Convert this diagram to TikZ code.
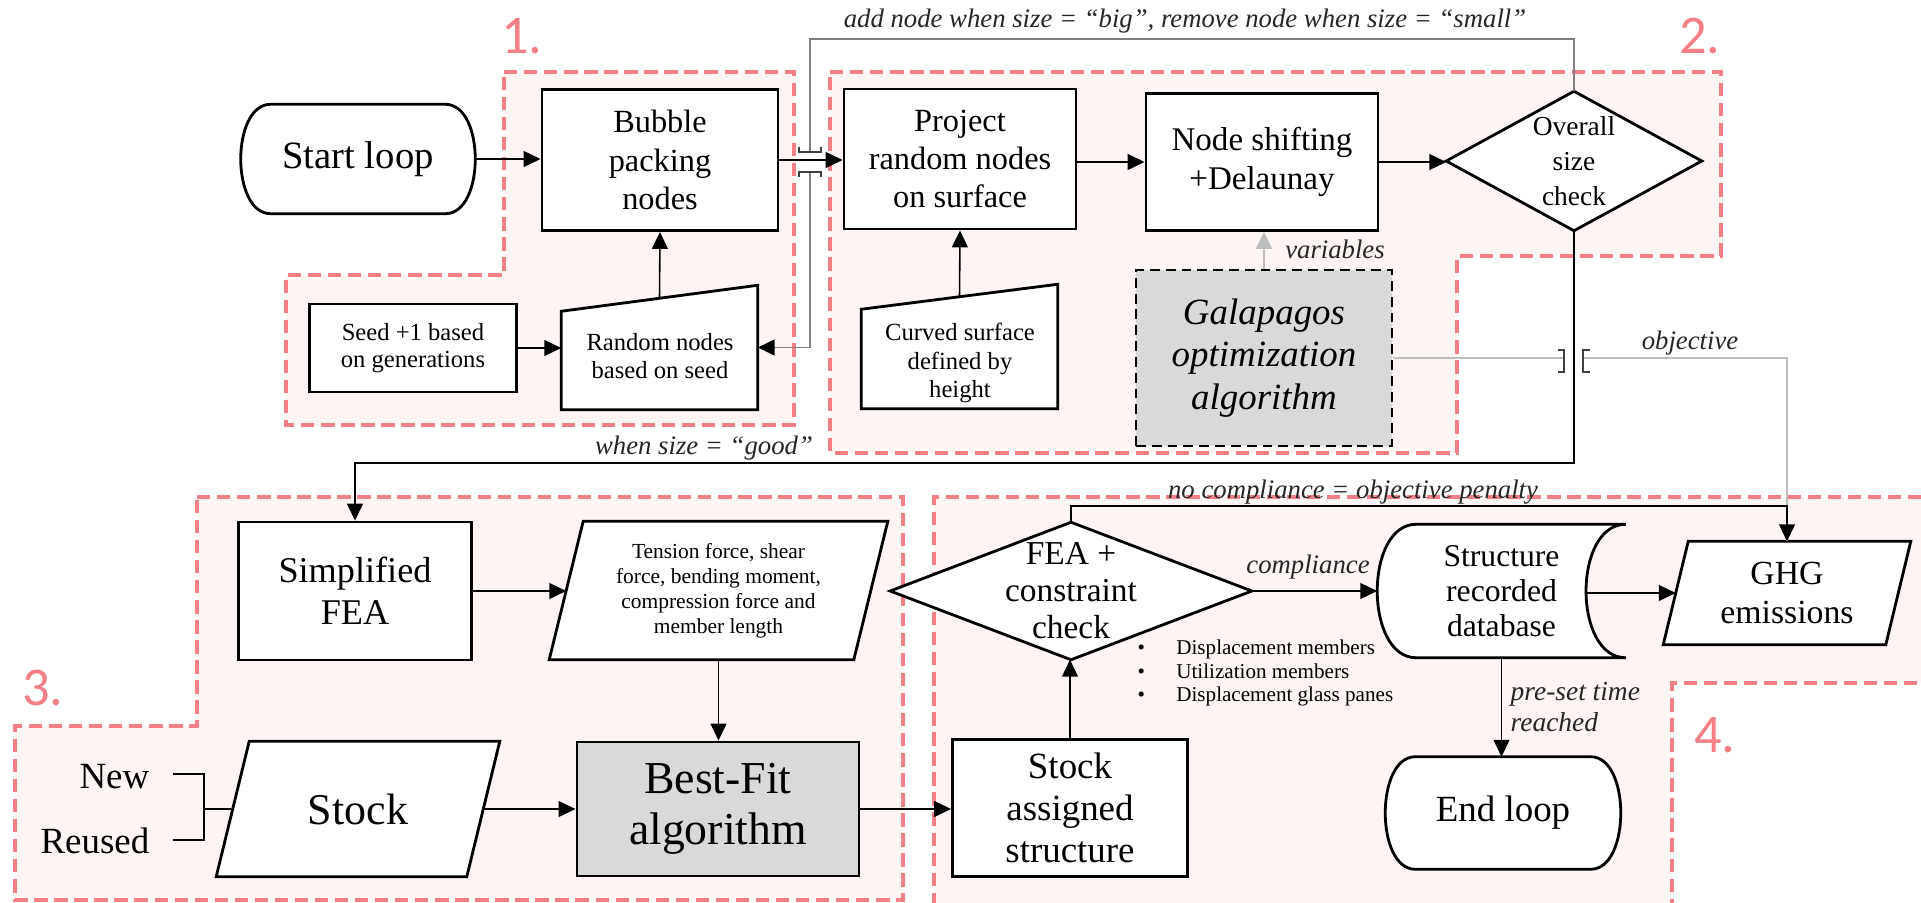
\documentclass[tikz,border=0pt]{standalone}
\usepackage{fontspec}
\setmainfont{Liberation Serif}
\newfontfamily\zonefont{Carlito}
\usetikzlibrary{arrows.meta,calc}
\pgfdeclarelayer{bg}
\pgfsetlayers{bg,main}
\definecolor{zonefill}{RGB}{253,244,244}
\definecolor{zoneline}{RGB}{244,128,135}
\definecolor{procgray}{RGB}{217,217,217}
\definecolor{loopgray}{RGB}{128,128,128}
\definecolor{objgray}{RGB}{190,190,190}
\newcommand\fsz[2]{\fontsize{#1}{#2}\selectfont}

\tikzset{
  zone/.style={draw=zoneline, fill=zonefill, line width=0.9pt, dash pattern=on 3.8pt off 1.9pt},
  zonelabel/.style={text=zoneline, font=\zonefont\fsz{15.5}{16}, inner sep=0pt},
  proc/.style={draw, line width=0.8pt, fill=white, align=center, inner sep=0pt},
  holder/.style={align=center, inner sep=0pt},
  outline/.style={draw, line width=0.8pt, fill=white},
  flow/.style={line width=0.45pt, -{Triangle[length=4.8pt,width=4.5pt]}},
  plain/.style={line width=0.45pt},
  loopline/.style={line width=0.55pt, draw=loopgray},
  objline/.style={line width=0.6pt, draw=objgray},
  jump/.style={line width=0.5pt, draw=black!75},
  note/.style={font=\itshape\fsz{7.6}{8.8}, text=black!85, inner sep=0pt},
}

\begin{document}
\begin{tikzpicture}[x=0.01cm,y=-0.01cm]
\useasboundingbox (0,0) rectangle (1921,903);

% the four process zones
\begin{pgfonlayer}{bg}
  \path[zone] (504,72) -- (794,72) -- (794,425) -- (286,425) -- (286,275) -- (504,275) -- cycle;
  \path[zone] (830,72) -- (1721,72) -- (1721,256) -- (1457,256) -- (1457,453) -- (830,453) -- cycle;
  \path[zone] (197,497) -- (903,497) -- (903,900) -- (15,900) -- (15,726) -- (197,726) -- cycle;
  \path[zone] (934,906) -- (934,497) -- (1930,497) -- (1930,683) -- (1672,683) -- (1672,906) -- cycle;
\end{pgfonlayer}

\node[zonelabel] (z1) at (522,36) {1.};
\node[zonelabel] (z2) at (1700,36) {2.};
\node[zonelabel] (z3) at (43,688) {3.};
\node[zonelabel] (z4) at (1715,735) {4.};

% zone 1: node generation
\node[holder, minimum width=2.33cm, minimum height=1.08cm, font=\fsz{11}{13}] (start) at (358,159) {Start loop};
\node[proc, minimum width=2.36cm, minimum height=1.41cm, font=\fsz{9.2}{10.9}] (bubble) at (660,160) {Bubble\\packing\\nodes};
\node[proc, minimum width=2.07cm, minimum height=0.88cm, font=\fsz{7}{7.8}] (seed) at (413,348) {Seed +1 based\\on generations};
\node[holder, minimum width=1.95cm, minimum height=1.23cm] (rnd) at (659.5,347.5) {};
\node[holder, font=\fsz{7}{7.8}] (rndtext) at (660,356) {Random nodes\\based on seed};

% zone 2: surface and optimisation
\node[proc, minimum width=2.32cm, minimum height=1.40cm, font=\fsz{9.2}{10.9}] (proj) at (960,159) {Project\\random nodes\\on surface};
\node[holder, minimum width=1.95cm, minimum height=1.23cm] (cur) at (959.5,346.5) {};
\node[holder, font=\fsz{7}{8}] (curtext) at (960,363) {Curved surface\\defined by\\height};
\node[proc, minimum width=2.32cm, minimum height=1.37cm, font=\fsz{9.4}{11}] (nshift) at (1262,162) {Node shifting\\+Delaunay};
\node[holder, minimum width=2.54cm, minimum height=1.38cm, font=\fsz{7.8}{9.9}] (dia) at (1574,161) {Overall\\size\\check};
\node[proc, fill=procgray, dash pattern=on 2.8pt off 1.7pt, minimum width=2.56cm, minimum height=1.76cm, font=\itshape\fsz{10.5}{12}] (gal) at (1264,358) {Galapagos\\optimization\\algorithm};

% zone 3: stock matching
\node[proc, minimum width=2.33cm, minimum height=1.38cm, font=\fsz{10.3}{11.9}] (sfea) at (355,591) {Simplified\\FEA};
\node[holder, minimum width=3.37cm, minimum height=1.37cm, font=\fsz{6.1}{7.1}] (tens) at (718.5,590.5) {Tension force, shear\\force, bending moment,\\compression force and\\member length};
\node[proc, fill=procgray, minimum width=2.82cm, minimum height=1.34cm, font=\fsz{13}{14.5}] (best) at (718,809) {Best-Fit\\algorithm};
\node[holder, minimum width=2.82cm, minimum height=1.34cm, font=\fsz{12.5}{14}] (stock) at (358,809) {Stock};
\node[font=\fsz{10.5}{12}, anchor=east, inner sep=0pt] (new) at (150,777) {New};
\node[font=\fsz{10.5}{12}, anchor=east, inner sep=0pt] (reused) at (150,841) {Reused};

% zone 4: checking and recording
\node[proc, minimum width=2.35cm, minimum height=1.37cm, font=\fsz{10.5}{11.9}] (sas) at (1070,808) {Stock\\assigned\\structure};
\node[holder, minimum width=3.6cm, minimum height=1.36cm, font=\fsz{9.5}{10.5}] (fea) at (1071,591) {FEA +\\constraint\\check};
\node[holder, minimum width=2.47cm, minimum height=1.32cm, font=\fsz{9}{9.9}] (db) at (1501.5,591) {Structure\\recorded\\database};
\node[holder, minimum width=2.46cm, minimum height=1.02cm, font=\fsz{9.6}{11.3}] (ghg) at (1787,593) {GHG\\emissions};
\node[holder, minimum width=2.34cm, minimum height=1.11cm, font=\fsz{10.5}{12}] (endl) at (1503,813) {End loop};
\node[anchor=west, align=left, inner sep=0pt, font=\fsz{6}{6.8}] (crit) at (1137,673)
  {\makebox[11pt][l]{\textbullet}Displacement members\\
   \makebox[11pt][l]{\textbullet}Utilization members\\
   \makebox[11pt][l]{\textbullet}Displacement glass panes};

% connector labels
\node[note] (lblsize) at (1185,21) {add node when size = “big”, remove node when size = “small”};
\node[note] (lblgood) at (704,448) {when size = “good”};
\node[note] (lblvar) at (1335,249) {variables};
\node[note] (lblobj) at (1690,343) {objective};
\node[note] (lblpen) at (1353,492) {no compliance = objective penalty};
\node[note] (lblcomp) at (1308,567) {compliance};
\node[note, anchor=west, align=left, font=\itshape\fsz{7.8}{8.8}] (lbltime) at (1510,707) {pre-set time\\reached};

% outlines of the non-rectangular shapes
\begin{pgfonlayer}{bg}
  \draw[outline] ($(start.north west)+(30,0)$) -- ($(start.north east)+(-30,0)$)
    .. controls +(40,0) and +(40,0) .. ($(start.south east)+(-30,0)$) -- ($(start.south west)+(30,0)$)
    .. controls +(-40,0) and +(-40,0) .. ($(start.north west)+(30,0)$) -- cycle;
  \draw[outline] ($(endl.north west)+(30,0)$) -- ($(endl.north east)+(-30,0)$)
    .. controls +(40,0) and +(40,0) .. ($(endl.south east)+(-30,0)$) -- ($(endl.south west)+(30,0)$)
    .. controls +(-40,0) and +(-40,0) .. ($(endl.north west)+(30,0)$) -- cycle;
  \draw[outline] (rnd.south west) -- (rnd.south east) -- (rnd.north east) -- ($(rnd.north west)+(0,26)$) -- cycle;
  \draw[outline] (cur.south west) -- (cur.south east) -- (cur.north east) -- ($(cur.north west)+(0,25)$) -- cycle;
  \draw[outline] (dia.north) -- (dia.east) -- (dia.south) -- (dia.west) -- cycle;
  \draw[outline] (fea.north) -- (fea.east) -- (fea.south) -- (fea.west) -- cycle;
  \draw[outline] (tens.south west) -- ($(tens.south east)+(-34,0)$) -- (tens.north east) -- ($(tens.north west)+(34,0)$) -- cycle;
  \draw[outline] (stock.south west) -- ($(stock.south east)+(-33,0)$) -- (stock.north east) -- ($(stock.north west)+(33,0)$) -- cycle;
  \draw[outline] (ghg.south west) -- ($(ghg.south east)+(-25,0)$) -- (ghg.north east) -- ($(ghg.north west)+(25,0)$) -- cycle;
  \draw[outline] ($(db.north west)+(39,0)$) -- (db.north east)
    .. controls +(-53,0) and +(-53,0) .. (db.south east) -- ($(db.south west)+(39,0)$)
    .. controls +(-52,0) and +(-52,0) .. ($(db.north west)+(39,0)$) -- cycle;
\end{pgfonlayer}

% zone 1 and 2 flow
\draw[flow] (start.east) -- (start.east -| bubble.west);
\draw[flow] ($(rnd.north)+(0,13)$) -- (bubble.south);
\draw[flow] (seed.east) -- (seed.east -| rnd.west);
\draw[flow] (bubble.east) -- (bubble.east -| proj.west);
\draw[flow] ($(cur.north)+(0,12.5)$) -- (proj.south);
\draw[flow] (nshift.west -| proj.east) -- (nshift.west);
\draw[flow] (nshift.east) -- (nshift.east -| dia.west);

% size feedback loop, jumping over the main arrow
\coordinate (fbturn) at (810,39);
\coordinate (fbgapA) at (810,152);
\coordinate (fbgapB) at (810,172);
\draw[loopline] (dia.north) |- (fbturn) -- (fbgapA);
\draw[loopline, -{Triangle[length=4.8pt,width=4.5pt,color=black]}] (fbgapB) |- (rnd.east);
\draw[jump] ($(fbgapA)+(-11,-5)$) -- ++(0,5) -- ++(22,0) -- ++(0,-5);
\draw[jump] ($(fbgapB)+(-11,5)$) -- ++(0,-5) -- ++(22,0) -- ++(0,5);

% optimiser links
\draw[objline, -{Triangle[length=4.8pt,width=4.5pt]}] (gal.north) -- (gal.north |- nshift.south);
\coordinate (objgapA) at (1564,358);
\coordinate (objgapB) at (1583,358);
\draw[objline] (gal.east) -- (objgapA);
\draw[objline] (objgapB) -| (ghg.north);
\draw[jump] ($(objgapA)+(-6,-8)$) -- ++(6,0) -- ++(0,22) -- ++(-6,0);
\draw[jump] ($(objgapB)+(7,-8)$) -- ++(-7,0) -- ++(0,22) -- ++(7,0);

% accepted size goes on to the analysis
\coordinate (goodturn) at (355,463);
\draw[flow] (dia.south) |- (goodturn) -- (sfea.north);

% zone 3 flow
\coordinate (tensin) at ($(tens.west)+(17,0)$);
\draw[flow] (sfea.east) -- (sfea.east -| tensin);
\draw[flow] (tens.south) -- (tens.south |- best.north);
\draw[flow] ($(stock.east)+(-16.5,0)$) -- (best.west);
\coordinate (nrA) at (173,774);
\coordinate (nrB) at (173,840);
\coordinate (nrJ) at (204,809);
\draw[plain] (nrA) -| (nrJ |- nrB) -- (nrB);
\draw[plain] (nrJ) -- ($(stock.west)+(16.5,0)$);
\draw[flow] (best.east) -- (best.east -| sas.west);

% zone 4 flow
\draw[flow] (sas.north) -- (sas.north |- fea.south);
\draw[flow] (fea.north) -- ++(0,-16) -| (ghg.north);
\draw[flow] (fea.east) -- (fea.east -| db.west);
\coordinate (dbout) at ($(db.east)+(-40,0)$);
\draw[flow] (dbout |- ghg.west) -- ($(ghg.west)+(12.5,0)$);
\draw[flow] (db.south) -- (db.south |- endl.north);
\end{tikzpicture}
\end{document}
